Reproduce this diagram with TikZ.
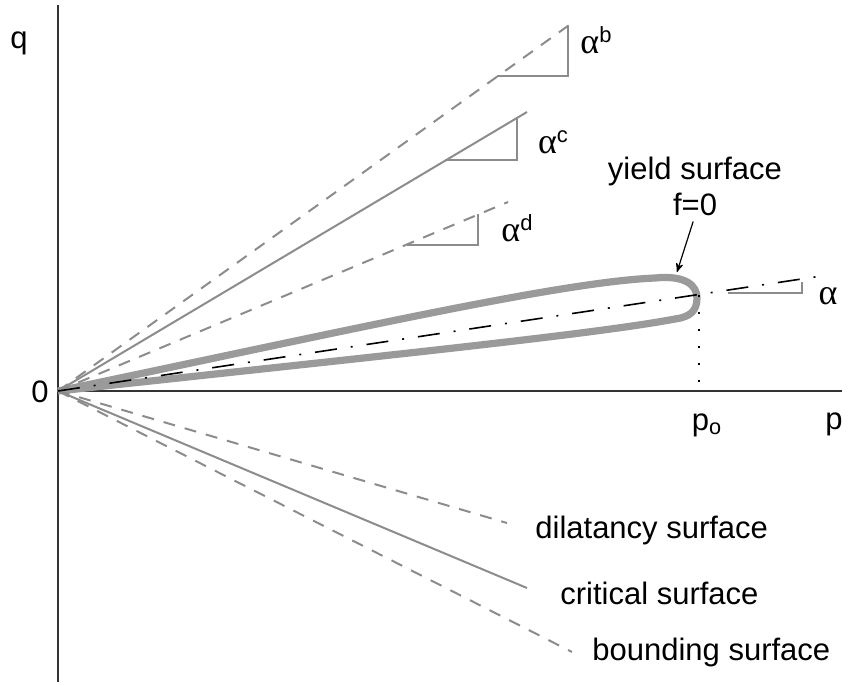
\documentclass[tikz,border=0pt]{standalone}
\usepackage{fontspec}
\setmainfont{Liberation Sans}
\setsansfont{Liberation Sans}
\newfontfamily\grkfont{Liberation Serif}
\usepackage{amsmath}
\usepackage{tikz}
\usetikzlibrary{arrows, positioning}

\definecolor{surfgray}{HTML}{8C8C8C}
\definecolor{yieldgray}{HTML}{9A9A9A}
\definecolor{axisdark}{HTML}{333333}

% slope label: alpha with a raised letter
\newcommand{\slopelbl}[1]{{\grkfont\fontsize{18}{18}\selectfont α}\raisebox{5.5pt}{\fontsize{11}{11}\selectfont #1}}

\begin{document}
\begin{tikzpicture}[x=0.5pt, y=-0.5pt,
    font=\fontsize{15.5}{18}\selectfont,
    axis/.style={draw=axisdark, line width=1pt},
    surf/.style={draw=surfgray, line width=1pt},
    dashsurf/.style={surf, dash pattern=on 6pt off 5pt},
    slopetri/.style={draw=surfgray, line width=0.8pt},
    alphaline/.style={draw=black, line width=0.8pt, dash pattern=on 11pt off 7pt on 1pt off 7pt},
    yield/.style={draw=yieldgray, line width=3.6pt, line join=round},
    lbl/.style={inner sep=0pt, anchor=west},
    line/.style={draw, -stealth', line width=0.6pt}]

    \useasboundingbox (0,0) rectangle (851,685);

    % axes
    \coordinate (O) at (58,391);
    \coordinate (qtop) at (58,5);
    \coordinate (qbot) at (58,682);
    \coordinate (pend) at (842,391);
    \path [axis] (qtop) -- (qbot);
    \path [axis] (O) -- (pend);
    \node (qlbl) at (19,43) {q};
    \node (zero) at (40,392) {0};
    \node (plbl) at (834,424) {p};
    \node (polbl) at (707,425) {p$_{\text{o}}$};

    % yield surface
    \coordinate (ytip) at (677,272);
    \coordinate (pnose) at (699,295);
    \path [yield] (O) .. controls (350,330) and (560,282) .. (655,278)
        .. controls (685,275) and (697,285) .. (697,298)
        .. controls (697,311) and (690,317) .. (675,319)
        .. controls (595,334) and (400,354) .. (O);
    \coordinate (pfoot) at (699,391);
    \path [draw, line width=0.9pt, dash pattern=on 1pt off 7.5pt] (pnose) -- (pfoot);

    % surface lines
    \coordinate (B1) at (572,23);
    \coordinate (C1) at (527,112);
    \coordinate (D1) at (508,202);
    \coordinate (B2) at (572,652);
    \coordinate (C2) at (527,588);
    \coordinate (D2) at (507,523);
    \coordinate (A) at (828,275);
    \path [dashsurf] (O) -- (B1);
    \path [surf] (O) -- (C1);
    \path [dashsurf] (O) -- (D1);
    \path [dashsurf] (O) -- (B2);
    \path [surf] (O) -- (C2);
    \path [dashsurf] (O) -- (D2);
    \path [alphaline] (O) -- (A);

    % slopes
    \path [slopetri] (497,76) -| (568,26);
    \path [slopetri] (445,160) -| (517,117);
    \path [slopetri] (407,245) -| (478,214);
    \path [slopetri] (728,293) -| (802,282);
    \node [inner sep=0pt] (ab) at (596,40) {\slopelbl{b}};
    \node [inner sep=0pt] (ac) at (553,142) {\slopelbl{c}};
    \node [inner sep=0pt] (ad) at (517,228) {\slopelbl{d}};
    \node [inner sep=0pt] (aa) at (828,296) {\grkfont\fontsize{18}{18}\selectfont α};

    % labels
    \node [align=center, inner sep=0pt] (ylbl) at (695,186) {yield surface\\f=0};
    \path [line, shorten <=3pt] (ylbl.south) -- (ytip);
    \node [lbl, right=14pt of D2, yshift=-3.5pt] (dlbl) {dilatancy surface};
    \node [lbl, right=16.5pt of C2, yshift=-2.5pt] (clbl) {critical surface};
    \node [lbl, right=10pt of B2] (blbl) {bounding surface};

\end{tikzpicture}
\end{document}
